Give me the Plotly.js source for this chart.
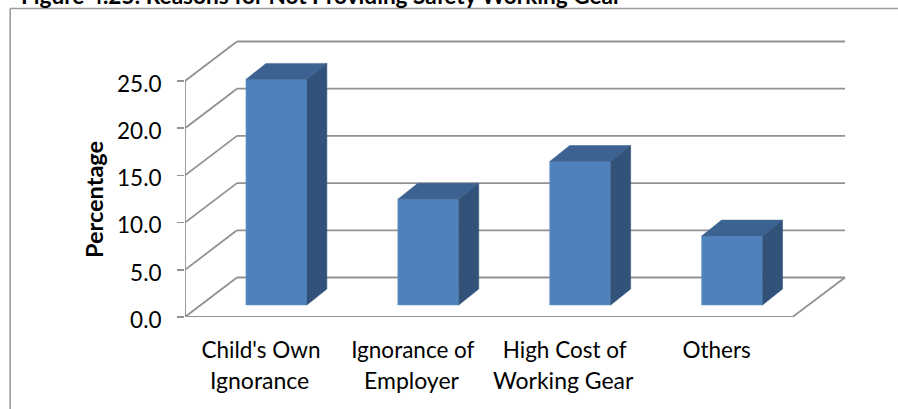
<!DOCTYPE html>
<html><head><meta charset="utf-8">
<script src="https://cdn.plot.ly/plotly-3.0.1.min.js"></script>
<style>html,body{margin:0;padding:0;background:#fff;overflow:hidden}#c{width:898px;height:409px}</style>
</head><body><div id="c"></div>
<script>
const categoryFirstLines = ["Child's Own", "Ignorance of", "High Cost of", "Others"];
const categorySecondLines = ["Ignorance", "Employer", "Working Gear", ""];
const values = [23.9, 11.2, 15.2, 7.3];
const yTicks = [0, 5, 10, 15, 20, 25];
const chartTitle = "Figure 4.25: Reasons for Not Providing Safety Working Gear";
const yTitle = "Percentage";

const W = 898, H = 409;
const m = {l:184.5, r:52, t:39, b:92};
const pxX = 152, pxY = 236/25;           // px per x unit, px per value unit
const plotW = W - m.l - m.r, plotH = H - m.t - m.b;
const xMin = 0.5, xMax = xMin + 660.5/pxX, yMax = plotH/pxY;
const xRangeMax = xMin + plotW/pxX;
const backDx = 52/pxX, backDy = 39.5/pxY;     // oblique offset of the back wall
const faceDx = 15.5/pxX, faceDy = 12/pxY;     // bar front plane offset
const depthDx = 20/pxX, depthDy = 16/pxY;     // bar depth
const barW = 61/pxX;
const xs = values.map((_, i) => i + 1);

const GRID = '#929292';
const line = (x0,y0,x1,y1,w,c) => ({type:'line',layer:'below',xref:'x',yref:'y',x0,y0,x1,y1,line:{color:c||GRID,width:w||1.8}});
const shapes = [];
yTicks.forEach(t => {
  shapes.push(line(xMin, t, xMin+backDx, t+backDy));
  shapes.push(line(xMin+backDx, t+backDy, xMax, t+backDy));
});
shapes.push(line(xMin,0,xMin,25,1.8));
shapes.push(line(xMin,0,xMin+4,0,2));
shapes.push(line(xMin+4,0,xMax,backDy));
// outer chart frame
const fx = p => (p-m.l)/plotW, fy = p => (H-m.b-p)/plotH;
shapes.push({type:'line',xref:'paper',yref:'paper',x0:fx(9.5),y0:fy(8.5),x1:fx(898),y1:fy(8.5),line:{color:'#9c9c9c',width:1.6}});
shapes.push({type:'line',xref:'paper',yref:'paper',x0:fx(9.5),y0:fy(8.5),x1:fx(9.5),y1:fy(409),line:{color:'#9c9c9c',width:1.6}});

const traces = [{
  type:'bar', x: xs.map(x => x+faceDx), y: values, base: values.map(() => faceDy),
  width: barW, marker:{color:'#4f81bd', line:{color:'#6f97c8',width:0.6}}, hoverinfo:'skip', showlegend:false
}];
xs.forEach((x,i) => {
  const l = x+faceDx-barW/2, r = x+faceDx+barW/2, b = faceDy, t = faceDy+values[i];
  traces.push({type:'scatter',mode:'lines',fill:'toself',fillcolor:'#3c6292',line:{color:'#3c6292',width:0.5},
    x:[l,r,r+depthDx,l+depthDx,l], y:[t,t,t+depthDy,t+depthDy,t], hoverinfo:'skip', showlegend:false});
  traces.push({type:'scatter',mode:'lines',fill:'toself',fillcolor:'#32527a',line:{color:'#32527a',width:0.5},
    x:[r,r+depthDx,r+depthDx,r,r], y:[b,b+depthDy,t+depthDy,t,b], hoverinfo:'skip', showlegend:false});
});

const FONT = 'Lato, "Open Sans", sans-serif';
const annotations = [
  {text:'<b>'+chartTitle+'</b>',xref:'paper',yref:'paper',x:fx(18),y:fy(-5),xanchor:'left',yanchor:'middle',showarrow:false,font:{family:FONT,size:22.6,color:'#000'}},
  {text:'<b>'+yTitle+'</b>',xref:'paper',yref:'paper',x:fx(93),y:fy(199.5),xanchor:'center',yanchor:'middle',textangle:-90,showarrow:false,font:{family:FONT,size:23.5,color:'#000'}}
];
categorySecondLines.forEach((t,i) => { if(t) annotations.push({
  text:t,xref:'x',yref:'paper',x:xs[i],xshift:-1,y:fy(380),xanchor:'center',yanchor:'middle',showarrow:false,font:{family:FONT,size:23,color:'#000'}});});

Plotly.newPlot('c',traces,{
  width:W,height:H,margin:m,paper_bgcolor:'#fff',plot_bgcolor:'#fff',showlegend:false,bargap:0,
  font:{family:FONT,color:'#000'},
  xaxis:{range:[xMin,xRangeMax],tickmode:'array',tickvals:xs,ticktext:categoryFirstLines,ticks:'',showgrid:false,zeroline:false,showline:false,
         tickfont:{family:FONT,size:22.5,color:'#000'},ticklabelstandoff:17,fixedrange:true},
  yaxis:{range:[0,yMax],tickmode:'array',tickvals:yTicks,tickformat:'.1f',ticks:'outside',ticklen:7,tickwidth:1.6,tickcolor:GRID,
         showgrid:false,zeroline:false,showline:false,tickfont:{family:FONT,size:22.5,color:'#000'},ticklabelstandoff:11,ticklabelshift:3,fixedrange:true},
  shapes,annotations
},{displayModeBar:false,staticPlot:true});
</script></body></html>
